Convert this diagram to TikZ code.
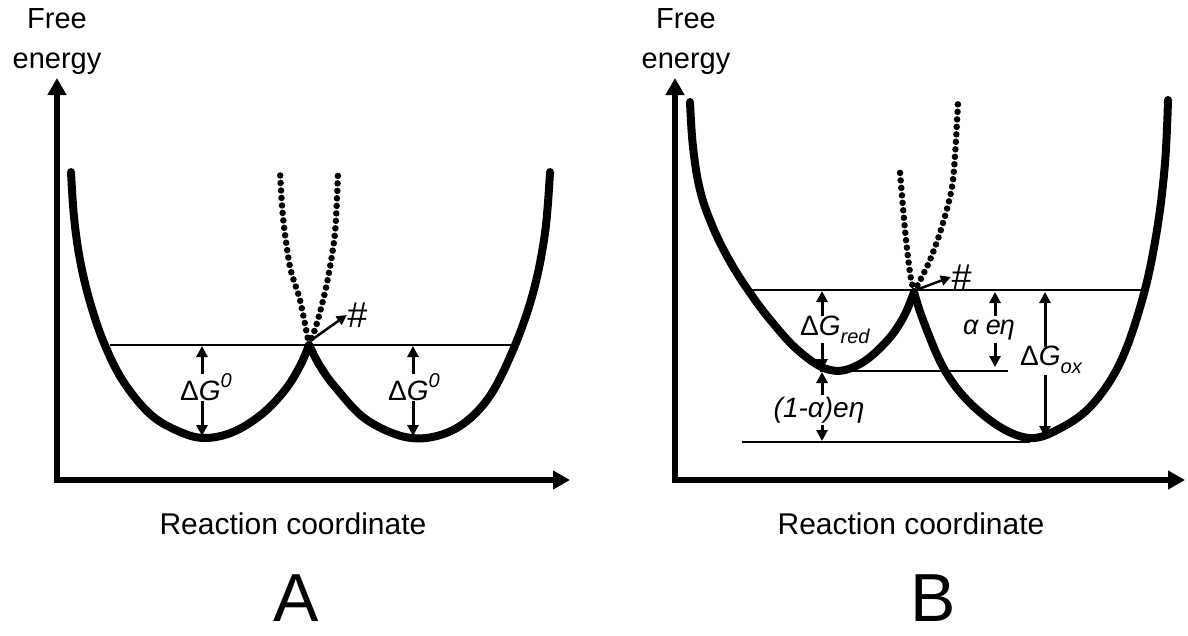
\documentclass[tikz,border=0pt]{standalone}
\usepackage{fontspec}
\setmainfont{Liberation Sans}
\usetikzlibrary{arrows.meta}
\tikzset{
  axis/.style={line width=6pt, line join=miter, {Triangle[width=18pt,length=17pt]}-{Triangle[width=18pt,length=17pt]}},
  well/.style={line width=8pt, line cap=round, line join=round},
  dotcurve/.style={line width=6.5pt, line cap=round, dash pattern=on 0pt off 7.5pt},
  level/.style={line width=1.5pt},
  marker/.style={line width=3pt, -{Triangle[width=11pt,length=11pt]}},
  small/.style={line width=2.5pt, -{Triangle[width=10pt,length=10pt]}},
  lbl/.style={inner sep=0pt, font=\fontsize{28}{30}\selectfont},
  title/.style={inner sep=0pt, align=center, font=\fontsize{29}{40}\selectfont},
  caption/.style={inner sep=0pt, anchor=base, font=\fontsize{30}{32}\selectfont},
  panel/.style={inner sep=0pt, anchor=base, text depth=0pt, font=\fontsize{68}{70}\selectfont},
  hash/.style={inner sep=0pt, font=\fontsize{36}{36}\selectfont\itshape},
}
\newcommand{\supit}[1]{\raisebox{0.45em}{\fontsize{20}{20}\selectfont\itshape #1}}
\newcommand{\subit}[1]{\raisebox{-0.28em}{\fontsize{20}{20}\selectfont\itshape #1}}
\begin{document}
\begin{tikzpicture}[x=1pt,y=-1pt]
\useasboundingbox (0,0) rectangle (1188,635);

% ---------------- Panel A ----------------
\coordinate (Atop) at (57,78);
\coordinate (Ao) at (57,480);
\coordinate (Aright) at (570,480);
\draw[axis] (Atop) -- (Ao) -- (Aright);
\node[title] (Afe) at (57,42) {Free\\energy};
\node[caption] (Arc) at (293,534) {Reaction coordinate};
\node[panel] (Alab) at (296,621) {A};

% dotted continuations
\draw[dotcurve] plot[smooth] coordinates {(309,345) (317,323) (327,283) (335,233) (338,172)};
\draw[dotcurve] plot[smooth] coordinates {(309,345) (300,300) (290,267) (283,217) (280,172)};
% level line
\coordinate (AL1) at (110,345);
\coordinate (AL2) at (512,345);
\draw[level] (AL1) -- (AL2);
% wells
\draw[well] plot[smooth, tension=0.6] coordinates {(71,172) (74,217) (80,260) (90,302) (104,343) (123,381) (150,414) (178,431) (204,438) (233,432) (262,414) (285,390) (300,366) (309,345)};
\draw[well] plot[smooth, tension=0.6] coordinates {(309,345) (320,366) (336,388) (367,420) (411,438) (453,430) (487,400) (513,350) (533,293) (545,233) (550,172)};

% transition-state marker
\coordinate (Ac) at (310,341);
\node[hash] (Ahash) at (357,315) {\#};
\draw[small] (Ac) -- (Ahash.west);

% Delta G0 arrows
\node[lbl] (AdG1) at (206,387) {Δ\textit{G}\supit{0}};
\coordinate (AdG1t) at (202,346);
\coordinate (AdG1b) at (202,436);
\draw[marker] (202,374) -- (AdG1t);
\draw[marker] (202,401) -- (AdG1b);

\node[lbl] (AdG2) at (414,387) {Δ\textit{G}\supit{0}};
\coordinate (AdG2t) at (413,346);
\coordinate (AdG2b) at (413,436);
\draw[marker] (413,374) -- (AdG2t);
\draw[marker] (413,401) -- (AdG2b);

% ---------------- Panel B ----------------
\coordinate (Btop) at (675,78);
\coordinate (Bo) at (675,480);
\coordinate (Bright) at (1185,480);
\draw[axis] (Btop) -- (Bo) -- (Bright);
\node[title] (Bfe) at (686,42) {Free\\energy};
\node[caption] (Brc) at (911,534) {Reaction coordinate};
\node[panel] (Blab) at (933,621) {B};

\draw[dotcurve] plot[smooth] coordinates {(914,292) (930,260) (943,223) (953,180) (958,102)};
\draw[dotcurve] plot[smooth] coordinates {(914,292) (910,273) (905,230) (900,172)};

\coordinate (BL1a) at (745,290);
\coordinate (BL1b) at (1147,290);
\coordinate (BL2a) at (820,371);
\coordinate (BL2b) at (1008,371);
\coordinate (BL3a) at (742,442);
\coordinate (BL3b) at (1030,442);
\draw[level] (BL1a) -- (BL1b);
\draw[level] (BL2a) -- (BL2b);
\draw[level] (BL3a) -- (BL3b);

\draw[well] plot[smooth, tension=0.65] coordinates {(690,102) (693,147) (700,190) (712,225) (728,258) (748,290) (772,322) (800,352) (830,370) (858,365) (885,343) (903,318) (914,292)};
\draw[well] plot[smooth, tension=0.6] coordinates {(914,292) (923,320) (943,367) (967,400) (1000,427) (1030,438) (1057,430) (1090,407) (1120,363) (1143,297) (1157,230) (1165,163) (1168,100)};

\coordinate (Bc) at (916,290);
\node[hash] (Bhash) at (961,277) {\#};
\draw[small] (Bc) -- (Bhash.west);

% Delta G red
\node[lbl, anchor=west] (Bred) at (800,330) {Δ\textit{G}\subit{red}};
\draw[marker] (822,316) -- (822,291);
\draw[marker] (822,343) -- (822,370);
% (1-alpha) e eta
\node[lbl, font=\fontsize{28}{30}\selectfont\itshape] (Bae1) at (819,410) {(1-α)eη};
\draw[marker] (822,395) -- (822,372);
\draw[marker] (822,425) -- (822,441);
% alpha e eta
\node[lbl, font=\fontsize{27}{28}\selectfont\itshape] (Bae2) at (989,330) {α e\kern-1ptη};
\draw[marker] (995,316) -- (995,292);
\draw[marker] (995,343) -- (995,367);
% Delta G ox
\node[lbl, anchor=west] (Box) at (1020,360) {Δ\textit{G}\subit{ox}};
\draw[marker] (1045,347) -- (1045,292);
\draw[marker] (1045,375) -- (1045,437);
\end{tikzpicture}
\end{document}
